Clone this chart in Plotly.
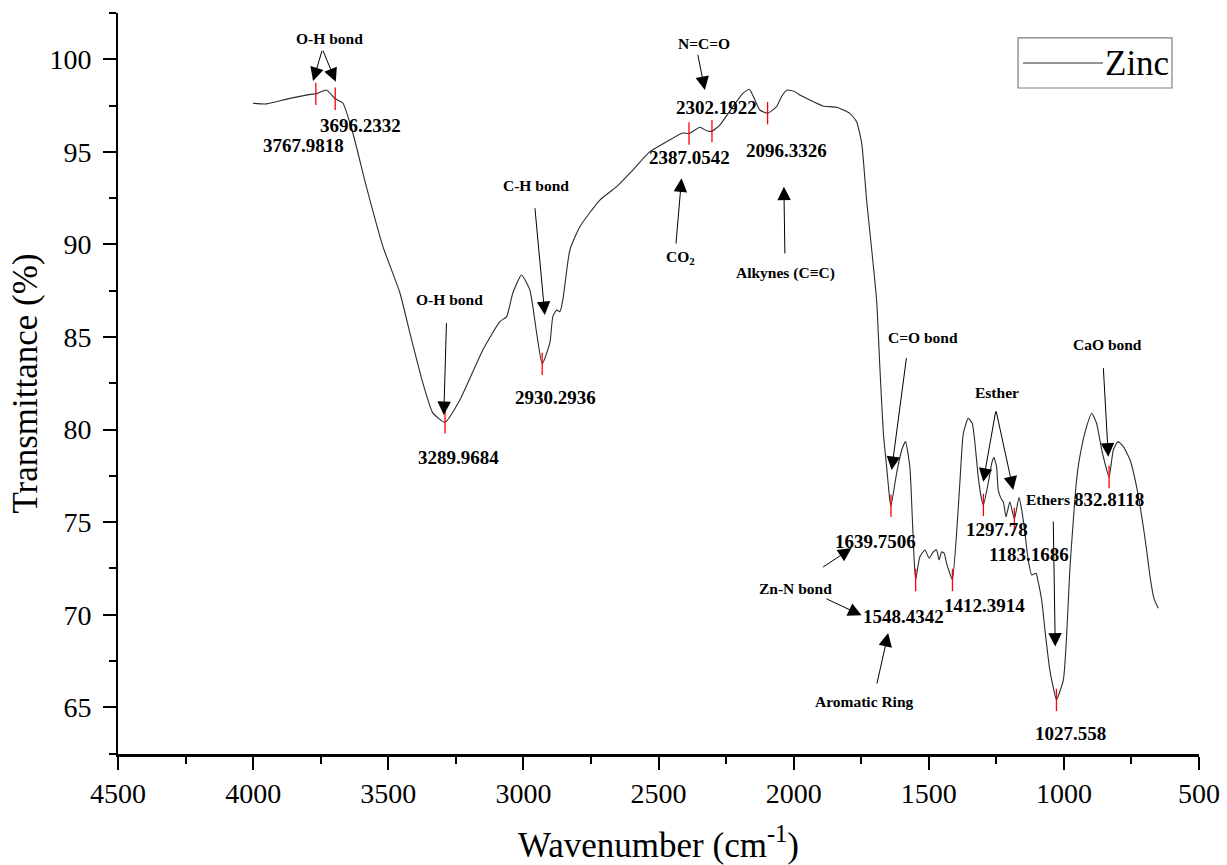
import plotly.graph_objects as go

# ---------------- data ----------------
wavenumber = [4000, 3950, 3864, 3779, 3767.9818, 3729, 3696.2332, 3668, 3631, 3581, 3520, 3457,
              3420, 3372, 3335, 3289.9684, 3235, 3150, 3087, 3062, 3039, 3007, 2976, 2951,
              2930.2936, 2902, 2891, 2877, 2865, 2854, 2828, 2791, 2717, 2655, 2595, 2532,
              2470, 2410, 2387.0542, 2347, 2322, 2302.1922, 2273, 2225, 2188, 2164, 2143,
              2125, 2096.3326, 2063, 2045, 2024, 1995, 1977, 1940, 1892, 1841, 1792, 1767,
              1748, 1730, 1711, 1693, 1681, 1668, 1656, 1644, 1639.7506, 1619, 1600, 1586,
              1570, 1561, 1554, 1548.4342, 1533, 1514, 1499, 1483, 1471, 1462, 1452, 1443,
              1434, 1422, 1412.3914, 1397, 1385, 1372, 1354, 1339, 1329, 1317, 1304, 1297.78,
              1280, 1267, 1259, 1249, 1243, 1233, 1224, 1214, 1200, 1183.1686, 1166, 1156,
              1144, 1132, 1119, 1103, 1095, 1082, 1070, 1052, 1037, 1027.558, 1002, 990, 978,
              965, 953, 941, 916, 897, 879, 860, 848, 832.8118, 817, 800, 780, 755, 731, 706,
              694, 681, 667, 651]
transmittance = [97.62, 97.59, 97.89, 98.12, 98.13, 98.34, 97.87, 97.64, 96.02, 93.12, 89.90, 87.39,
                 85.22, 82.52, 80.90, 80.40, 81.60, 84.30, 85.83, 86.10, 87.38, 88.35, 87.54, 85.22,
                 83.55, 84.68, 86.10, 86.46, 86.37, 87.00, 89.70, 90.96, 92.40, 93.12, 94.02, 95.01,
                 95.55, 96.02, 95.99, 96.33, 96.14, 96.12, 96.45, 97.44, 98.16, 98.38, 97.80,
                 97.26, 97.09, 97.44, 97.98, 98.34, 98.25, 98.07, 97.80, 97.48, 97.41, 97.08, 96.63,
                 95.46, 92.40, 89.70, 87.00, 83.40, 79.82, 78.00, 76.20, 75.88, 77.64, 78.90, 79.35,
                 78.00, 75.29, 72.96, 71.88, 73.13, 73.50, 73.06, 73.40, 73.50, 72.96, 73.40, 73.32,
                 72.78, 72.24, 71.88, 74.40, 77.10, 79.80, 80.61, 80.34, 79.26, 77.46, 76.20, 75.93,
                 77.10, 78.18, 78.50, 78.00, 76.74, 76.30, 76.09, 75.29, 76.10, 75.17, 76.34, 75.66,
                 74.40, 72.96, 72.15, 72.24, 71.78, 70.79, 69.17, 67.01, 65.93, 65.40, 66.47, 68.81, 72.42,
                 75.12, 77.28, 78.54, 80.16, 80.88, 80.34, 78.90, 78.18, 77.44, 78.90, 79.35, 79.08, 78.36, 76.92, 74.75,
                 73.50, 72.05, 70.90, 70.35]

peak_wn = [3767.9818, 3696.2332, 3289.9684, 2930.2936, 2387.0542, 2302.1922, 2096.3326,
           1639.7506, 1548.4342, 1412.3914, 1297.78, 1183.1686, 1027.558, 832.8118]
peak_t = [98.13, 97.87, 80.40, 83.55, 95.99, 96.12, 97.09,
          75.88, 71.88, 71.88, 75.93, 75.17, 65.40, 77.44]

# number labels: (text, wavenumber, transmittance)
number_labels = [
    ("3767.9818", 3812.7, 95.37), ("3696.2332", 3601.7, 96.45),
    ("3289.9684", 3239.0, 78.47), ("2930.2936", 2880.0, 81.71),
    ("2387.0542", 2384.0, 94.72), ("2302.1922", 2284.0, 97.42),
    ("2096.3326", 2025.0, 95.10), ("1639.7506", 1695.5, 73.98),
    ("1548.4342", 1591.9, 69.88), ("1412.3914", 1292.1, 70.52),
    ("1297.78", 1247.7, 74.58), ("1183.1686", 1129.2, 73.23),
    ("1027.558", 973.7, 63.61), ("832.8118", 833.1, 76.20),
]
# group labels
group_labels = [
    ("O-H bond", 3716.4, 101.15), ("N=C=O", 2332.2, 100.88),
    ("C-H bond", 2954.0, 93.21), ("CO<sub>2</sub>", 2417.3, 89.32),
    ("Alkynes (C≡C)", 2028.6, 88.46), ("O-H bond", 3272.3, 87.00),
    ("C=O bond", 1521.6, 85.00), ("Esther", 1247.7, 82.03),
    ("Ethers", 1058.9, 76.20), ("CaO bond", 836.8, 84.62),
    ("Zn-N bond", 1991.6, 71.44), ("Aromatic Ring", 1736.2, 65.29),
]
# arrows: (tail_wn, tail_t, head_wn, head_t)
arrows = [
    (3743.5, 100.54, 3778.2, 98.83), (3743.5, 100.54, 3694.2, 98.79),
    (2355.5, 100.32, 2328.4, 98.34), (2957.7, 92.04, 2920.6, 86.19),
    (2435.8, 89.97, 2414.7, 93.57), (2032.3, 89.43, 2036.0, 93.12),
    (3284.5, 85.83, 3294.5, 80.79), (1581.9, 83.94, 1637.4, 77.82),
    (1251.4, 81.06, 1298.4, 77.18), (1251.4, 81.06, 1187.3, 76.74),
    (854.2, 83.40, 835.7, 78.54), (1039.3, 75.12, 1031.9, 68.28),
    (1896.5, 72.52, 1785.5, 73.60), (1884.3, 70.90, 1748.5, 69.97),
    (1693.0, 66.20, 1650.0, 69.01),
]

FONT = "Liberation Serif"

fig = go.Figure()
fig.add_trace(go.Scatter(
    x=wavenumber, y=transmittance, mode="lines", name="Zinc",
    line=dict(color="#2b2b2b", width=1.1, shape="spline", smoothing=0.5),
    showlegend=False, hoverinfo="x+y"))
fig.add_trace(go.Scatter(
    x=peak_wn, y=peak_t, mode="markers", name="peaks", showlegend=False,
    marker=dict(symbol="line-ns", size=16, line=dict(color="red", width=1.3))))

annotations = []
for txt, x, y in number_labels:
    annotations.append(dict(x=x, y=y, xref="x", yref="y", text="<b>%s</b>" % txt,
                            showarrow=False, font=dict(family=FONT, size=19, color="black"),
                            xanchor="center", yanchor="middle"))
for txt, x, y in group_labels:
    annotations.append(dict(x=x, y=y, xref="x", yref="y", text="<b>%s</b>" % txt,
                            showarrow=False, font=dict(family=FONT, size=15.5, color="black"),
                            xanchor="center", yanchor="middle"))
for tx, ty, hx, hy in arrows:
    annotations.append(dict(x=hx, y=hy, ax=tx, ay=ty, xref="x", yref="y", axref="x", ayref="y",
                            text="", showarrow=True, arrowhead=2, arrowsize=2.7,
                            arrowwidth=1, arrowcolor="black", standoff=0, startstandoff=0))

# legend (drawn manually to match the long sample line)
annotations.append(dict(x=0.9112, y=0.9325, xref="paper", yref="paper", text="Zinc",
                        showarrow=False, xanchor="left", yanchor="middle",
                        font=dict(family=FONT, size=35, color="black")))
shapes = [
    dict(type="rect", xref="paper", yref="paper", x0=0.8326, x1=0.9750, y0=0.8988, y1=0.9663,
         line=dict(color="#7f7f7f", width=1.2), fillcolor="rgba(0,0,0,0)"),
    dict(type="line", xref="paper", yref="paper", x0=0.8372, x1=0.9112, y0=0.9325, y1=0.9325,
         line=dict(color="#2b2b2b", width=1.1)),
]

fig.update_layout(
    width=1227, height=865,
    margin=dict(l=118, r=28, t=13, b=111),
    paper_bgcolor="white", plot_bgcolor="white",
    font=dict(family=FONT, color="black"),
    annotations=annotations, shapes=shapes,
    showlegend=False,
)
fig.update_xaxes(
    range=[4500, 500], tickmode="linear", tick0=500, dtick=500,
    ticks="outside", ticklen=13, tickwidth=1.5, tickcolor="black",
    minor=dict(dtick=250, ticks="outside", ticklen=7, tickwidth=1.5, tickcolor="black"),
    showline=True, linecolor="black", linewidth=2.5, showgrid=False, zeroline=False,
    tickfont=dict(family=FONT, size=28, color="black"),
    title=dict(text="Wavenumber (cm<sup>-1</sup>)", font=dict(family=FONT, size=35), standoff=30),
    automargin=False,
)
fig.update_yaxes(
    range=[62.48, 102.5], tickmode="linear", tick0=65, dtick=5,
    ticks="outside", ticklen=13, tickwidth=1.5, tickcolor="black",
    minor=dict(dtick=2.5, ticks="outside", ticklen=7, tickwidth=1.5, tickcolor="black"),
    showline=True, linecolor="black", linewidth=2, showgrid=False, zeroline=False,
    tickfont=dict(family=FONT, size=28, color="black"),
    ticklabelstandoff=6,
    title=dict(text="Transmittance (%)", font=dict(family=FONT, size=35), standoff=1),
    automargin=False,
)

fig.write_html("out.html")
